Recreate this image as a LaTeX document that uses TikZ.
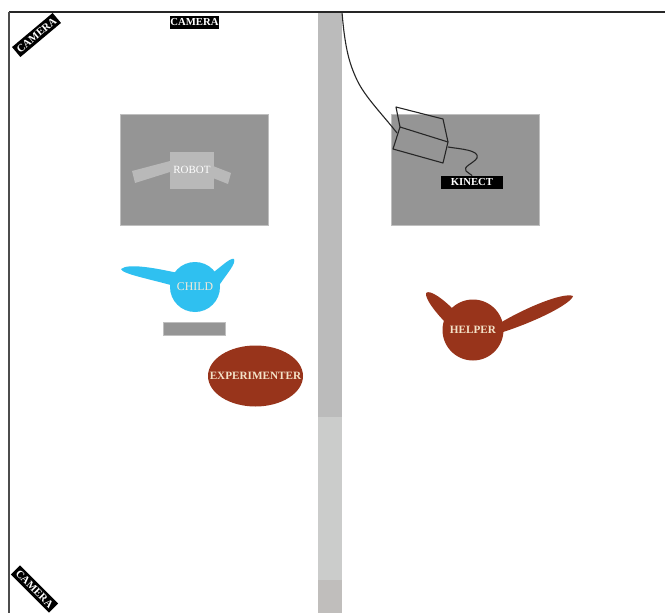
\documentclass[tikz,border=0pt]{standalone}
\usepackage{fontspec}
\setmainfont{Liberation Serif}
\usepackage{tikz}
\usetikzlibrary{shapes.geometric}
\definecolor{tablegray}{HTML}{959595}
\definecolor{robotgray}{HTML}{B9B9B9}
\definecolor{wallgray}{HTML}{BBBBBB}
\definecolor{walllight}{HTML}{CBCCCB}
\definecolor{wallbase}{HTML}{C0BEBC}
\definecolor{childblue}{HTML}{2FC0F0}
\definecolor{adultbrown}{HTML}{98341B}
\definecolor{adulttext}{HTML}{F3E2C8}
\tikzset{
  tagbox/.style={fill=black, text=white, inner sep=0pt, minimum height=13pt, font=\fontsize{10.7}{12}\selectfont\bfseries},
  tablebox/.style={fill=tablegray, draw=tablegray!60!white, line width=0.5pt, inner sep=0pt, anchor=north west},
  kinectline/.style={draw=black!85, line width=1.1pt, line join=round},
  adulthead/.style={fill=adultbrown, text=adulttext, inner sep=0pt, font=\fontsize{11.2}{13}\selectfont\bfseries}
}
\begin{document}
\begin{tikzpicture}[x=1pt, y=-1pt]
    \useasboundingbox (0,0) rectangle (665,613);
    \clip (0,0) rectangle (665,613);
    \fill[white] (0,0) rectangle (665,613);

    \fill[wallgray] (318,12) rectangle (342,417);
    \fill[walllight] (318,417) rectangle (342,580);
    \fill[wallbase] (318,580) rectangle (342,613);
    \draw[black!85, line width=1.2pt] (665,12) -- (9,12);
    \draw[black!70, line width=1.8pt] (9,12) -- (9,613);

    \node[tablebox, minimum width=148pt, minimum height=111pt] (robottable) at (120,114) {};
    \node[tablebox, minimum width=148pt, minimum height=111pt] (kinecttable) at (391,114) {};
    \node[tablebox, minimum width=62pt, minimum height=13pt] (tray) at (163,322) {};

    \fill[robotgray] (132,171) -- (170,161) -- (170,172) -- (135,183) -- cycle;
    \fill[robotgray] (213,166) -- (231,173) -- (228,184) -- (213,178) -- cycle;
    \node[fill=robotgray, text=white, inner sep=0pt, minimum width=44pt, minimum height=37pt, font=\fontsize{11}{12}\selectfont] (robot) at (192,170) {ROBOT};

    \fill[childblue] (178,273) .. controls (155,268) and (128,263) .. (121,269) .. controls (122,274) and (150,279) .. (178,287) -- cycle;
    \fill[childblue] (208,276) .. controls (218,270) and (230,257) .. (234,259) .. controls (236,264) and (228,272) .. (218,287) -- cycle;
    \node[circle, fill=childblue, text=adulttext!70!white, inner sep=0pt, minimum size=50pt, font=\fontsize{11.8}{12}\selectfont] (child) at (195,287) {CHILD};

    \node[ellipse, fill=adultbrown, inner sep=0pt, minimum width=95pt, minimum height=61pt] (experimenter) at (255.5,376) {};
    \node[adulthead, fill=none] (experimenterlabel) at (experimenter.center) {EXPERIMENTER};

    \fill[adultbrown] (453,309) .. controls (444,300) and (430,289) .. (426,293) .. controls (425,299) and (436,313) .. (446,323) -- cycle;
    \fill[adultbrown] (500,323) .. controls (525,308) and (563,292) .. (573,296) .. controls (571,304) and (535,322) .. (500,333) -- cycle;
    \node[circle, adulthead, minimum size=61pt] (helper) at (473,330) {HELPER};

    \node[tagbox, minimum width=49pt] (cameratop) at (194.5,22.5) {CAMERA};
    \node[tagbox, minimum width=53pt, rotate=40] (cameraleft) at (36.5,35) {CAMERA};
    \node[tagbox, minimum width=54pt, rotate=-45] (camerabottom) at (34.5,589) {CAMERA};
    \node[tagbox, minimum width=62pt] (kinect) at (472,182.5) {KINECT};

    \coordinate (frontA) at (400,127);
    \coordinate (frontB) at (448,142);
    \coordinate (frontC) at (443,163);
    \coordinate (frontD) at (393,149);
    \coordinate (backA) at (396,107);
    \coordinate (backB) at (443,119);
    \coordinate (walltop) at (342,12);
    \coordinate (cablein) at (397,133);
    \coordinate (cableout) at (448,147);
    \draw[kinectline] (frontA) -- (frontB) -- (frontC) -- (frontD) -- cycle;
    \draw[kinectline] (frontA) -- (backA) -- (backB) -- (frontB);
    \draw[kinectline] (walltop) .. controls (345,50) and (350,65) .. (357,80) .. controls (365,97) and (383,115) .. (cablein);
    \draw[kinectline] (cableout) .. controls (460,149) and (480,150) .. (477,158) .. controls (474,163) and (462,167) .. (466,171) .. controls (468,173) and (472,175) .. (kinect.north);
\end{tikzpicture}
\end{document}
